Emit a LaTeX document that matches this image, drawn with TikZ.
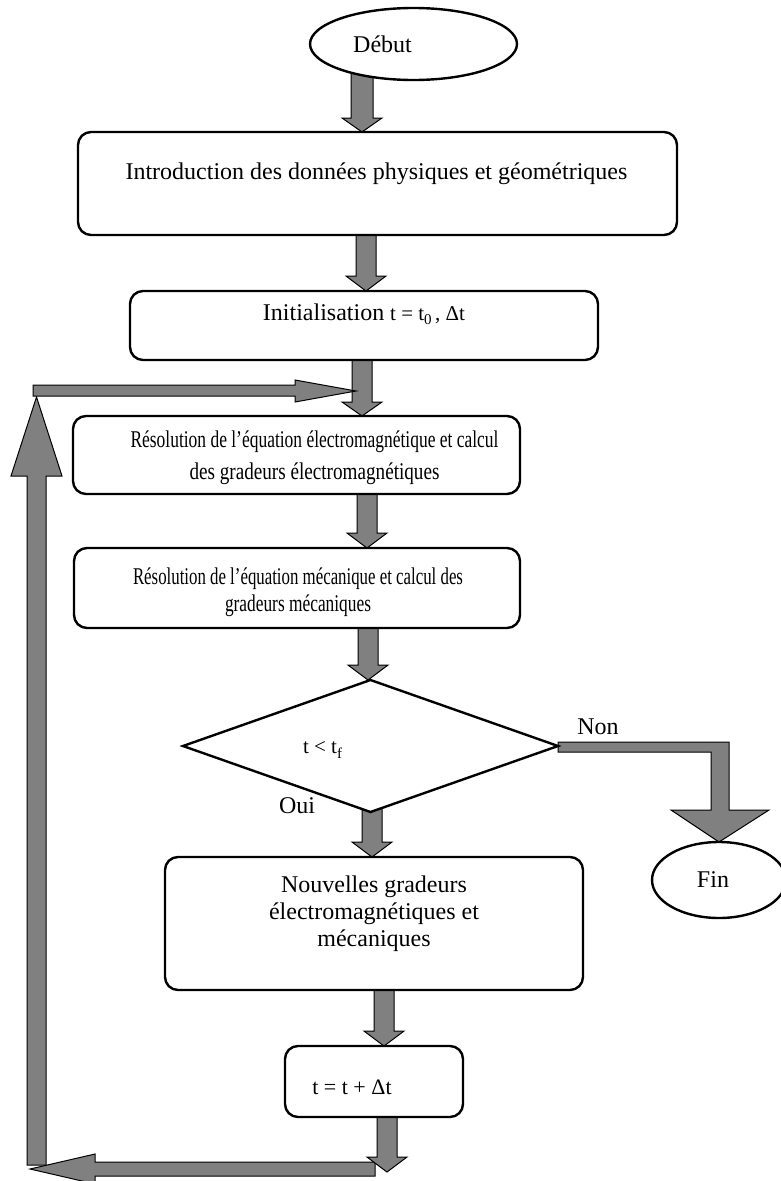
\documentclass[tikz,border=0pt]{standalone}
\usepackage{fontspec}
\usepackage{graphicx}
\setmainfont{Liberation Serif}
\usetikzlibrary{shapes.geometric,calc,backgrounds}
\definecolor{fatgray}{RGB}{128,128,128}
\tikzset{
  every node/.style={font=\fontsize{24}{28}\selectfont},
  box/.style={draw, line width=2.4pt, rounded corners=13pt, fill=white, inner sep=0pt, outer sep=0pt},
  oval/.style={ellipse, draw, line width=2.4pt, fill=white, inner sep=0pt, outer sep=0pt},
  decision/.style={diamond, draw, line width=2.4pt, fill=white, inner sep=0pt, outer sep=0pt},
  fat/.style={fill=fatgray, draw=black, line width=1pt, line join=miter},
  lbl/.style={inner sep=0pt},
}
% text placed with offset (dx, dy in pt) inside a node
\newcommand\tx[3]{\raisebox{\dimexpr#2pt-8pt\relax}[0pt][0pt]{\makebox[0pt]{\hspace*{#1pt}\hspace*{#1pt}\begin{tabular}{@{}c@{}}#3\end{tabular}}}}
\newcommand\rs[2]{\resizebox{#1pt}{\height}{#2}}
% fat down arrow: x, from, to, shaft half, head half, head length
\newcommand\fatdown[6]{%
  \path[fat] let \p1=#2, \p2=#3 in
    ({#1pt-#4pt},\y1) -- ({#1pt-#4pt},{\y2+#6pt}) -- ({#1pt-#5pt},{\y2+#6pt})
    -- (#1pt,\y2) -- ({#1pt+#5pt},{\y2+#6pt}) -- ({#1pt+#4pt},{\y2+#6pt})
    -- ({#1pt+#4pt},\y1) -- cycle;}
\begin{document}
\begin{tikzpicture}[x=1pt,y=-1pt]
\useasboundingbox (0,0) rectangle (780,1181);

\node[oval, minimum width=207pt, minimum height=72pt] (deb) at (413.5,44) {\tx{-31}{-1}{Début}};
\node[box, minimum width=599pt, minimum height=103pt] (intro) at (377.5,183.5)
  {\tx{-1}{11.5}{Introduction des données physiques et géométriques}};
\node[box, minimum width=468pt, minimum height=69pt] (init) at (364,325.5)
  {\tx{0}{12.5}{Initialisation {\fontsize{21}{24}\selectfont t = t\raisebox{-4pt}{\fontsize{15}{15}\selectfont 0}\,, Δt}}};
\node[box, minimum width=447pt, minimum height=78pt] (res1) at (296.5,455)
  {\tx{18}{-1}{\rs{368}{Résolution de l’équation électromagnétique et calcul}\\[4pt] \rs{250}{des gradeurs électromagnétiques}}};
\node[box, minimum width=446pt, minimum height=80pt] (res2) at (297,588)
  {\tx{1}{-2.5}{\rs{330}{Résolution de l’équation mécanique et calcul des}\\[-1pt] \rs{146}{gradeurs mécaniques}}};
\node[decision, minimum width=375pt, minimum height=132pt] (test) at (370.5,746)
  {\tx{-48}{0}{{\fontsize{21}{24}\selectfont t < t\raisebox{-5pt}{\fontsize{15}{15}\selectfont f}}}};
\node[box, minimum width=418pt, minimum height=133pt] (nouv) at (374,923.5)
  {\tx{0}{11.5}{Nouvelles gradeurs\\[-1pt] électromagnétiques et\\[-1pt] mécaniques}};
\node[box, minimum width=178pt, minimum height=71pt] (tbox) at (374,1081.5)
  {\tx{-22}{-5.5}{{\fontsize{22}{24}\selectfont t = t + Δt}}};
\node[oval, minimum width=134pt, minimum height=76pt] (fin) at (719,880) {\tx{-6}{0}{Fin}};

\node[lbl] (non) at (598,727) {Non};
\node[lbl] (oui) at (297,806) {Oui};

\coordinate (loopTip) at (387,1172);

\begin{scope}[on background layer]
\fatdown{362}{(deb.center)}{(intro.north)}{11}{20}{14}
\fatdown{366}{(intro.center)}{(init.north)}{10}{20}{15}
\fatdown{362}{(init.center)}{(res1.north)}{10}{20}{14}
\fatdown{367}{(res1.center)}{(res2.north)}{10}{20}{15}
\fatdown{368}{(res2.center)}{(test.north)}{10}{20}{15}
\fatdown{372}{(test.center)}{(nouv.north)}{10}{20}{15}
\fatdown{384}{(nouv.center)}{(tbox.north)}{10}{20}{15}
% loop back: bottom, left, top
\path[fat] (375,1162) -- (95,1162) -- (95,1154) -- (30,1169) -- (95,1184) -- (95,1176) -- (375,1176) -- cycle;
\fatdown{387}{(tbox.center)}{(loopTip)}{10}{20}{15}
\path[fat] (27,1165) -- (27,476) -- (11,476) -- (36.5,397) -- (62,476) -- (46,476) -- (46,1165) -- cycle;
\path[fat] (33,385) -- (295,385) -- (295,380) -- (356,391) -- (295,402) -- (295,396) -- (33,396) -- cycle;
% Non branch
\path[fat] let \p1=(test.east), \p2=(fin.north) in
  (\x1,742) -- (729,742) -- (729,810) -- (769,810) -- (\x2,\y2) -- (671,810) -- (711,810) -- (711,752) -- (\x1,752) -- cycle;
\end{scope}
\end{tikzpicture}
\end{document}
